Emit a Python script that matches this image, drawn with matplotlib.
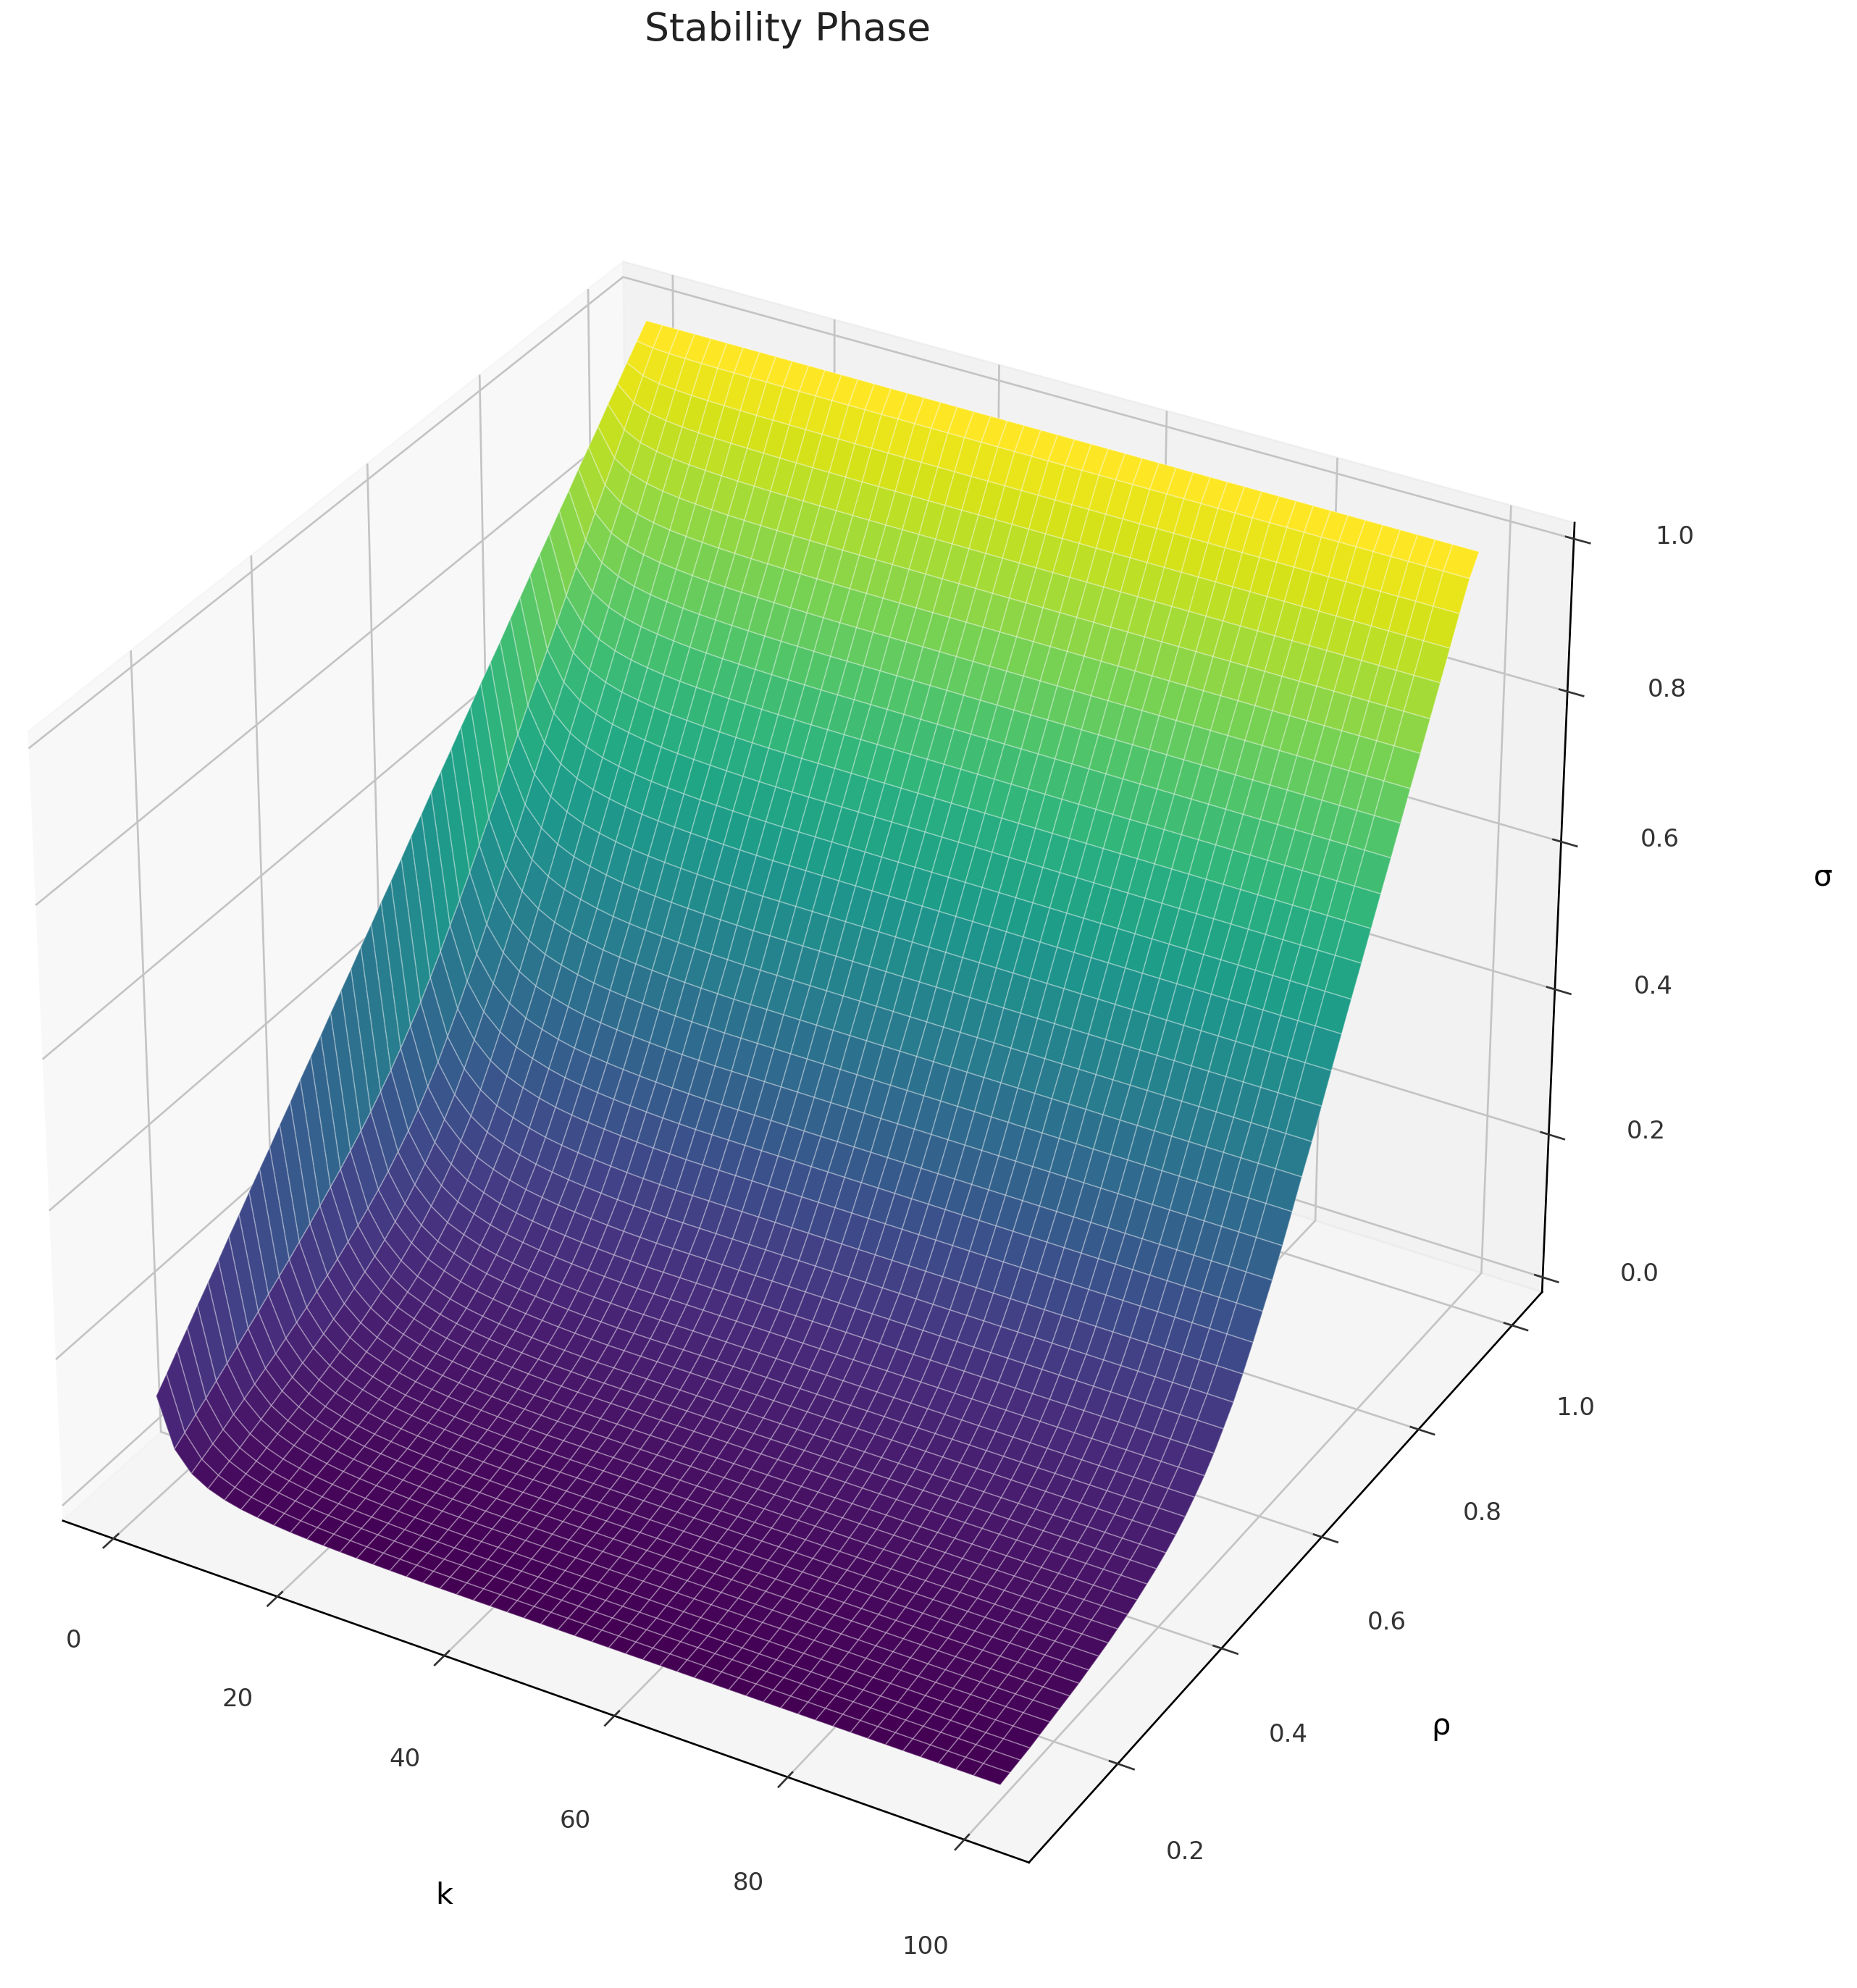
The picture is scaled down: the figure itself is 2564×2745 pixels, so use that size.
import numpy as np
import matplotlib
matplotlib.use("Agg")
import matplotlib.pyplot as plt

# k and rho grid of the surface
k_values = [1, 3, 5, 7, 9, 11, 13, 15, 17, 19, 21, 23, 25, 27, 29, 31, 33, 35, 37, 39, 41, 43, 45, 47, 49,
            51, 53, 55, 57, 59, 61, 63, 65, 67, 69, 71, 73, 75, 77, 79, 81, 83, 85, 87, 89, 91, 93, 95, 97, 100]
rho_values = [.100, .118, .137, .155, .173, .192, .210, .229, .247, .265, .284, .302, .320, .339, .357, .376, .394,
              .412, .431, .449, .467, .486, .504, .522, .541, .559, .578, .596, .614, .633, .651, .669, .688, .706,
              .724, .743, .761, .780, .798, .816, .835, .853, .871, .890, .908, .927, .945, .963, .982, 1.0]

# sigma read along the k=100 edge
sigma_far = [.000, .002, .004, .006, .009, .012, .015, .018, .021, .025, .029, .033, .038, .043, .049, .056, .063,
             .071, .081, .092, .105, .120, .137, .157, .179, .204, .233, .262, .291, .324, .357, .391, .425, .460,
             .495, .531, .565, .600, .634, .668, .703, .737, .771, .805, .839, .874, .908, .942, .976, 1.0]
# how much higher the k=1 edge sits, per rho
lift_rho = [.130, .145, .162, .177, .192, .207, .221, .237, .251, .265, .279, .292, .305, .318, .330, .341, .351,
            .361, .369, .375, .380, .383, .384, .381, .377, .370, .359, .348, .336, .321, .306, .289, .274, .256,
            .238, .221, .204, .188, .171, .154, .138, .121, .105, .089, .072, .056, .039, .023, .007, 0]
# share of that lift left at each k
lift_k = [1, .50, .30, .20, .14, .10, .075, .055, .04, .03, .022, .016, .011, .007, .004, .002] + [0] * 34

plt.rcParams["axes.linewidth"] = 1.1
plt.rcParams["grid.linewidth"] = 1.1
plt.rcParams["grid.color"] = "#c4c4c4"
plt.rcParams["xtick.major.width"] = 1.1
plt.rcParams["ytick.major.width"] = 1.1

K, P = np.meshgrid(k_values, rho_values)
S = np.array(sigma_far)[:, None] + np.array(lift_rho)[:, None] * np.array(lift_k)[None, :]

fig = plt.figure(figsize=(2564 / 175, 2745 / 175), dpi=175)
ax = fig.add_axes([-0.036, 0.004, 0.926, 0.937], projection="3d")
# the reference is stretched a little, so keep the rectangle as given
ax.apply_aspect = lambda position=None: None
ax.plot_surface(K, P, S, cmap="viridis", rstride=1, cstride=1, edgecolor=(1, 1, 1, 0.28), linewidth=0.7)

ax.set_xticks([0, 20, 40, 60, 80, 100])
ax.set_yticks([0.2, 0.4, 0.6, 0.8, 1.0])
ax.set_zticks([0.0, 0.2, 0.4, 0.6, 0.8, 1.0])
ax.set_xlabel("k", labelpad=60, fontsize=17)
ax.set_ylabel("ρ", labelpad=58, fontsize=17)
ax.set_zlabel("σ", labelpad=76, fontsize=17)
for axis in ("x", "y", "z"):
    ax.tick_params(axis=axis, pad=28, labelsize=14, colors="#333333")
fig.text(0.424, 0.985, "Stability Phase", ha="center", va="center", fontsize=22, color="#222222")

fig.savefig("out.png", dpi=175)
